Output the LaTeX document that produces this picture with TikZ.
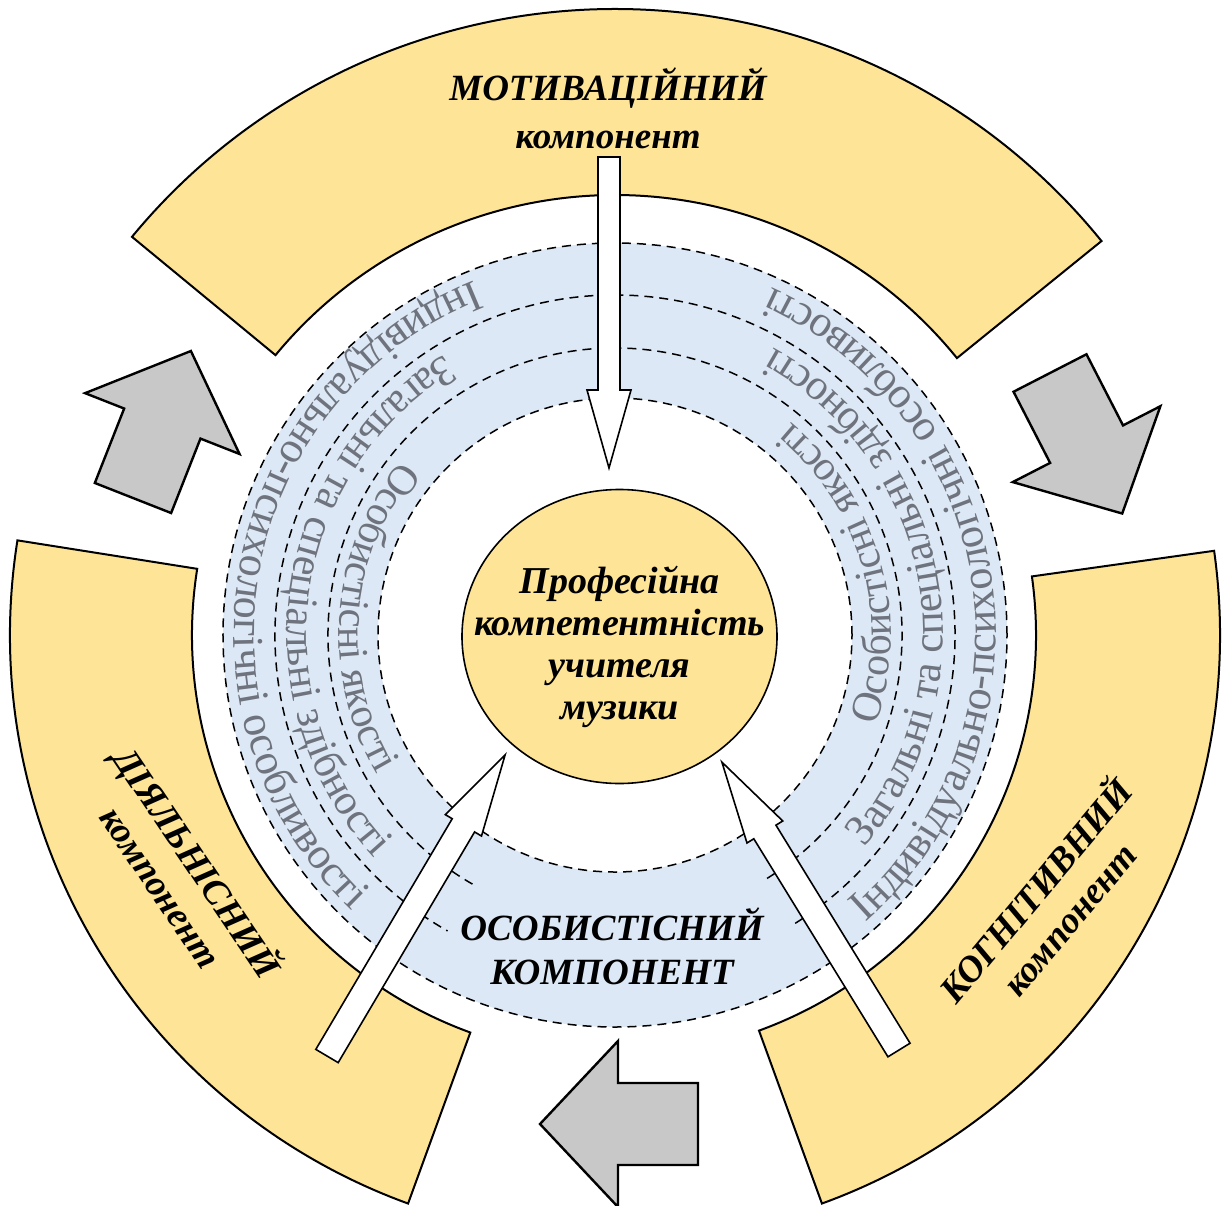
\documentclass[tikz,border=0pt]{standalone}
\usepackage{fontspec}
\setmainfont{Liberation Serif}
\usetikzlibrary{decorations.text,shapes.geometric}

\definecolor{segyellow}{RGB}{253,228,150}
\definecolor{ringblue}{RGB}{220,232,245}
\definecolor{flowgray}{RGB}{200,200,200}
\definecolor{ringtext}{RGB}{110,115,125}
\newcommand\boldlabel{\fontsize{18.5}{22}\selectfont\bfseries\itshape}
\newcommand\ringfont[1]{\fontsize{#1}{24}\selectfont\color{ringtext}}

\begin{document}
\begin{tikzpicture}[x=0.5pt, y=0.5pt,
   segment/.style={draw, line width=1pt, fill=segyellow},
   ringline/.style={dash pattern=on 4.5pt off 3pt, line width=0.75pt},
   flowarrow/.style={draw, line width=1.2pt, fill=flowgray},
   linkarrow/.style={draw, line width=0.8pt, fill=white},
   seglabel/.style={align=center, font=\boldlabel, inner sep=0pt},
   ringlabel/.style={decorate, decoration={text along path, text align=center}}]

   \useasboundingbox (-615,-570) rectangle (614,635);

   % yellow segments
   \draw[segment] (39:440) -- (39:626) arc[start angle=39, end angle=140.5, radius=626]
      -- (140.5:440) arc[start angle=140.5, end angle=39, radius=440] -- cycle;
   \draw[segment] (171:423) -- (171:605) arc[start angle=171, end angle=250, radius=605]
      -- (250:423) arc[start angle=250, end angle=171, radius=423] -- cycle;
   \draw[segment] (-70:421) -- (-70:605) arc[start angle=-70, end angle=8, radius=605]
      -- (8:421) arc[start angle=8, end angle=-70, radius=421] -- cycle;

   % blue ring
   \fill[ringblue, even odd rule] (0,0) circle[radius=392] (0,0) circle[radius=237];
   \draw[ringline] (0,0) circle[radius=392];
   \draw[ringline] (0,0) circle[radius=237];
   \draw[ringline] (-58:340) arc[start angle=-58, end angle=240.5, radius=340];
   \draw[ringline] (-58:287) arc[start angle=-58, end angle=240.5, radius=287];

   \path[ringlabel, decoration={text={|\ringfont{22}|Індивідуально-психологічні особливості}}]
      (94:381) arc[start angle=94, end angle=244, radius=381];
   \path[ringlabel, decoration={text={|\ringfont{21.5}|Загальні та спеціальні здібності}}]
      (102:328) arc[start angle=102, end angle=242, radius=328];
   \path[ringlabel, decoration={text={|\ringfont{21}|Особистісні якості}}]
      (125.6:276) arc[start angle=125.6, end angle=225.6, radius=276];
   \path[ringlabel, decoration={text={|\ringfont{22}|Індивідуально-психологічні особливості}}]
      (-66.6:381) arc[start angle=-66.6, end angle=83.4, radius=381];
   \path[ringlabel, decoration={text={|\ringfont{21.5}|Загальні та спеціальні здібності}}]
      (-59.6:328) arc[start angle=-59.6, end angle=80.4, radius=328];
   \path[ringlabel, decoration={text={|\ringfont{21}|Особистісні якості}}]
      (-34.3:276) arc[start angle=-34.3, end angle=65.7, radius=276];

   % grey cycle arrows
   \begin{scope}[shift={(-482,137)}, rotate=68.5]
      \draw[flowarrow] (0,-41) -- (80,-41) -- (80,-83) -- (158,0) -- (80,83) -- (80,41) -- (0,41) -- cycle;
   \end{scope}
   \begin{scope}[shift={(435,262)}, rotate=-62.8]
      \draw[flowarrow] (0,-41) -- (80,-41) -- (80,-83) -- (158,0) -- (80,83) -- (80,41) -- (0,41) -- cycle;
   \end{scope}
   \begin{scope}[shift={(83,-489)}, rotate=180]
      \draw[flowarrow] (0,-41) -- (80,-41) -- (80,-83) -- (158,0) -- (80,83) -- (80,41) -- (0,41) -- cycle;
   \end{scope}

   % centre
   \node[draw, ellipse, fill=segyellow, line width=0.8pt, inner sep=0pt,
         minimum width=157.5pt, minimum height=147pt] (core) at (4.5,-1.5) {};
   \node[align=center, inner sep=0pt, font=\fontsize{19}{21}\selectfont\bfseries\itshape]
      (coretext) at (4.5,-11.5) {Професійна\\компетентність\\учителя\\музики};

   % white arrows into the centre
   \coordinate (motivfoot) at (-6,478);
   \coordinate (activfoot) at (-288,-421);
   \coordinate (cognfoot) at (284,-415);
   \begin{scope}[shift={(motivfoot)}, rotate=-90]
      \draw[linkarrow] (0,-11) -- (233,-11) -- (233,-22) -- (311,0) -- (233,22) -- (233,11) -- (0,11) -- cycle;
   \end{scope}
   \begin{scope}[shift={(activfoot)}, rotate=59.4]
      \draw[linkarrow] (0,-13) -- (268,-13) -- (268,-21) -- (350,0) -- (268,21) -- (268,13) -- (0,13) -- cycle;
   \end{scope}
   \begin{scope}[shift={(cognfoot)}, rotate=121.6]
      \draw[linkarrow] (0,-13) -- (256,-13) -- (256,-21) -- (338,0) -- (256,21) -- (256,13) -- (0,13) -- cycle;
   \end{scope}

   % labels
   \node[seglabel, font=\fontsize{18.5}{24}\selectfont\bfseries\itshape] (motiv) at (-7,527) {МОТИВАЦІЙНИЙ\\компонент};
   \node[seglabel, rotate=-56] (activ) at (-433,-238) {ДІЯЛЬНІСНИЙ\\компонент};
   \node[seglabel, rotate=50] (cogn) at (435,-268) {КОГНІТИВНИЙ\\компонент};
   \node[seglabel] (person) at (-3,-311) {ОСОБИСТІСНИЙ\\КОМПОНЕНТ};
\end{tikzpicture}
\end{document}
